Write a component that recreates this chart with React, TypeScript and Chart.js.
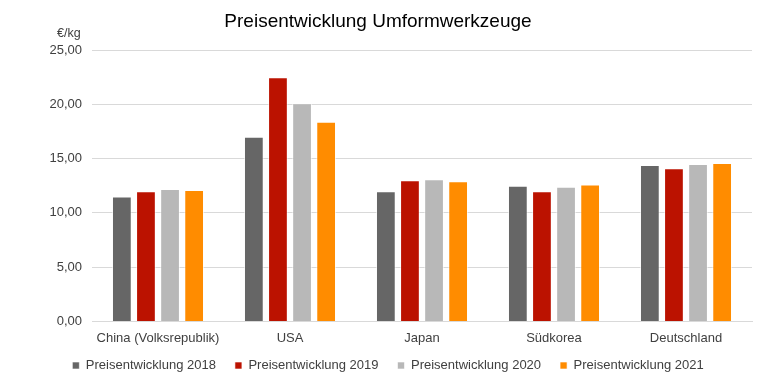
import React, { useEffect, useRef } from "react";
import { Chart, registerables } from "chart.js";

Chart.register(...registerables);

const categories = ["China (Volksrepublik)", "USA", "Japan", "Südkorea", "Deutschland"];
const series2018 = [11.5, 17.0, 12.0, 12.5, 14.4];
const series2019 = [12.0, 22.5, 13.0, 12.0, 14.1];
const series2020 = [12.2, 20.1, 13.1, 12.4, 14.5];
const series2021 = [12.1, 18.4, 12.9, 12.6, 14.6];
const seriesLabels = ["Preisentwicklung 2018", "Preisentwicklung 2019", "Preisentwicklung 2020", "Preisentwicklung 2021"];
const colors = ["#666666", "#BB1200", "#B8B8B8", "#FF8C00"];
const titleText = "Preisentwicklung Umformwerkzeuge";
const unitText = "€/kg";

const FONT = "'Liberation Sans', Arial, sans-serif";

const textPlugin = {
  id: "extraText",
  afterLayout(chart: any) {
    const lg = chart.legend;
    if (lg) {
      lg.top -= 7;
      lg.bottom -= 7;
    }
  },
  afterDraw(chart: any) {
    const ctx = chart.ctx;
    const area = chart.chartArea;
    ctx.save();
    ctx.font = `19px ${FONT}`;
    ctx.fillStyle = "#000000";
    ctx.textAlign = "center";
    ctx.textBaseline = "middle";
    ctx.fillText(titleText, chart.width / 2 - 6, 22);
    ctx.font = `12.5px ${FONT}`;
    ctx.fillStyle = "#404040";
    ctx.textAlign = "left";
    ctx.fillText(unitText, area.left - 35, area.top - 16);
    ctx.restore();
  },
};

export default function App() {
  const ref = useRef<HTMLCanvasElement>(null);
  useEffect(() => {
    if (!ref.current) return;
    const all = [series2018, series2019, series2020, series2021];
    const chart = new Chart(ref.current, {
      type: "bar",
      data: {
        labels: categories,
        datasets: all.map((d, i) => ({
          label: seriesLabels[i],
          data: d,
          backgroundColor: colors[i],
          borderColor: "rgba(255,255,255,0.6)",
          borderWidth: 1,
          categoryPercentage: 0.73,
          barPercentage: 0.82,
        })),
      },
      options: {
        animation: false,
        responsive: false,
        maintainAspectRatio: false,
        layout: { padding: { left: 24, right: 16, top: 50, bottom: -6 } },
        plugins: {
          title: { display: false },
          legend: {
            position: "bottom",
            labels: {
              color: "#404040",
              font: { family: FONT, size: 13 },
              boxWidth: 7,
              boxHeight: 7,
              padding: 19,
            },
          },
          tooltip: { enabled: false },
        },
        scales: {
          x: {
            grid: { display: false },
            border: { display: true, color: "#D9D9D9", width: 1 },
            ticks: { color: "#404040", font: { family: FONT, size: 13 }, padding: 1 },
          },
          y: {
            min: 0,
            max: 25,
            afterFit: (scale: any) => {
              scale.width = 68;
            },
            ticks: {
              stepSize: 5,
              color: "#404040",
              font: { family: FONT, size: 13 },
              padding: 10,
              callback: (v: any) => Number(v).toFixed(2).replace(".", ","),
            },
            grid: { color: "#D9D9D9", lineWidth: 1, drawTicks: false },
            border: { display: false },
          },
        },
      },
      plugins: [textPlugin],
    });
    return () => chart.destroy();
  }, []);
  return (
    <div style={{ position: "fixed", left: 0, top: 0, width: 768, height: 383, background: "#fff" }}>
      <canvas ref={ref} width={768} height={383} />
    </div>
  );
}
